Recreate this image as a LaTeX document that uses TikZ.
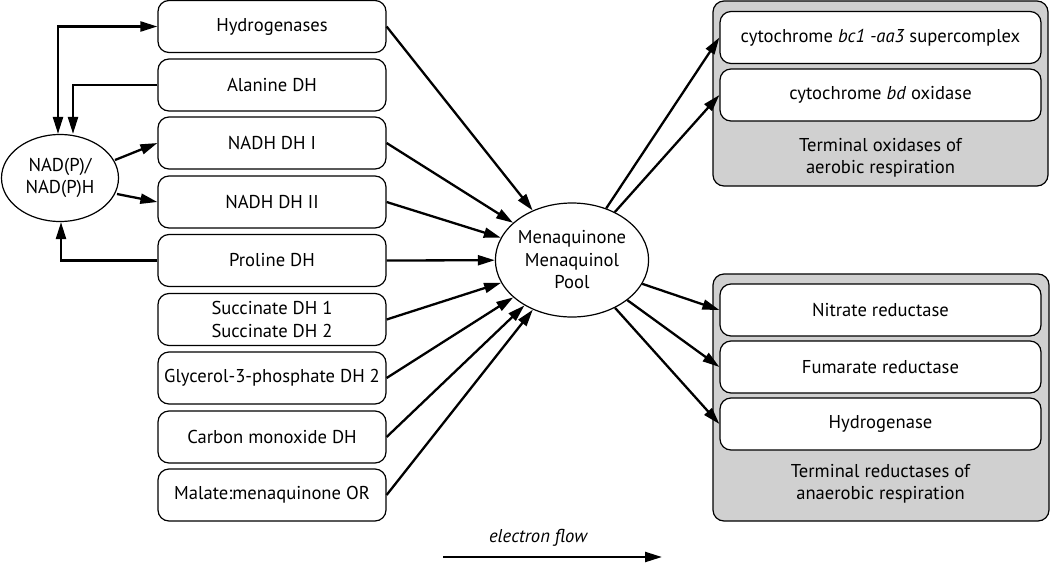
\documentclass[tikz,border=0pt]{standalone}
\usepackage{fontspec}
\setmainfont{PT Sans}
\usetikzlibrary{arrows.meta,shapes.geometric}
\definecolor{panelgray}{RGB}{208,208,208}
\begin{document}
\begin{tikzpicture}[x=1pt,y=-1pt,
  every node/.style={font=\fontsize{18.6}{22.5}\selectfont},
  enz/.style={draw, line width=1.2pt, rounded corners=11pt, fill=white,
    minimum width=228pt, minimum height=52pt, align=center, inner sep=0pt},
  renz/.style={enz, minimum width=321pt},
  panelbox/.style={draw, line width=1.2pt, rounded corners=11pt, fill=panelgray, inner sep=0pt},
  oval/.style={draw, ellipse, line width=1.2pt, inner sep=0pt, align=center, fill=white},
  arr/.style={-{Triangle[length=17pt,width=10pt]}, line width=2.3pt},
  darr/.style={{Triangle[length=17pt,width=10pt]}-{Triangle[length=17pt,width=10pt]}, line width=2.3pt},
  lbl/.style={align=center, inner sep=0pt}
]
\useasboundingbox (0,0) rectangle (1050,563);

% left enzymes
\node[enz] (hyd)  at (272,26.5) {Hydrogenases};
\node[enz] (ala)  at (272,85)   {Alanine DH};
\node[enz] (nd1)  at (272,143)  {NADH DH I};
\node[enz] (nd2)  at (272,202)  {NADH DH II};
\node[enz] (pro)  at (272,260.5){Proline DH};
\node[enz] (suc)  at (272,319.5){Succinate DH 1\\Succinate DH 2};
\node[enz] (gly)  at (272,378)  {Glycerol-3-phosphate DH 2};
\node[enz] (co)   at (272,437)  {Carbon monoxide DH};
\node[enz] (mal)  at (272,495)  {Malate:menaquinone OR};

% NAD ellipse
\node[oval, minimum width=117pt, minimum height=87pt] (nad) at (60,178) {NAD(P)/\\NAD(P)H};

% pool
\node[oval, minimum width=140pt, minimum height=114pt] (pool) at (572,260) {Menaquinone\\Menaquinol\\Pool};

% right panels
\node[panelbox, minimum width=335pt, minimum height=185pt] (oxp) at (880.5,93.5) {};
\node[panelbox, minimum width=336pt, minimum height=247pt] (redp) at (881,397.5) {};

\node[renz] (bc1) at (880.5,37.5) {cytochrome \textit{bc1 -aa3} supercomplex};
\node[renz] (bd)  at (880.5,95)   {cytochrome \textit{bd} oxidase};
\node[lbl] (oxl) at (880.5,158) {Terminal oxidases of\\aerobic respiration};

\node[renz] (nit) at (880.5,310) {Nitrate reductase};
\node[renz] (fum) at (880.5,367) {Fumarate reductase};
\node[renz] (h2)  at (880.5,424) {Hydrogenase};
\node[lbl] (redl) at (880.5,484) {Terminal reductases of\\anaerobic respiration};

% NAD connections
\coordinate (hydcorner) at (58,26.5);
\coordinate (alacorner) at (73,85);
\coordinate (procorner) at (61,260.5);
\draw[darr] (nad.north -| hydcorner) |- (hyd.west);
\draw[arr] (ala.west) -- (alacorner) -- (alacorner |- nad.north);
\coordinate (n1start) at (115,160);
\coordinate (n2start) at (117,194);
\draw[arr] (n1start) -- (nd1.west);
\draw[arr] (n2start) -- (nd2.west);
\draw[arr] (pro.west) -- (procorner) -- (procorner |- nad.south);

% into pool
\foreach \n in {hyd,nd1,nd2,pro,suc,gly,co,mal}
  \draw[arr] (\n.east) -- (pool);

% out of pool
\foreach \n in {bc1,bd,nit,fum,h2}
  \draw[arr] (pool) -- (\n.west);

% electron flow legend
\coordinate (efs) at (443,557);
\coordinate (efe) at (662,557);
\draw[arr] (efs) -- (efe);
\node[lbl, font=\fontsize{18.6}{22.5}\selectfont\itshape] (efl) at (538,538) {electron flow};
\end{tikzpicture}
\end{document}
